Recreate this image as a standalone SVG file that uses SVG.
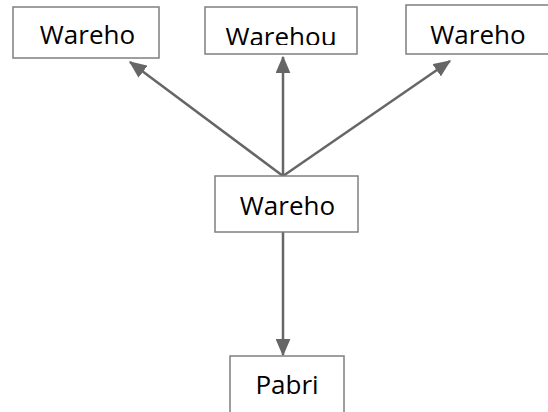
<svg xmlns="http://www.w3.org/2000/svg" width="548" height="412" viewBox="0 0 548 412">
<style>
.box{fill:#fff;stroke:#7f7f7f;stroke-width:1.5}
.lbl{font-family:"Open Sans","Noto Sans",sans-serif;font-size:26px;fill:#000;text-anchor:middle}
.conn{stroke:#666;stroke-width:2.5;fill:none;marker-end:url(#ah)}
</style>
<defs>
<marker id="ah" markerWidth="7" markerHeight="6" refX="6.5" refY="3" orient="auto" markerUnits="strokeWidth">
<path d="M0,0 L7,3 L0,6 Z" fill="#666"/>
</marker>
<clipPath id="c2"><rect x="205" y="7" width="152" height="38"/></clipPath>
</defs>
<g id="connectors">
<line class="conn" x1="283" y1="176" x2="130" y2="62"/>
<line class="conn" x1="283" y1="176" x2="283" y2="57"/>
<line class="conn" x1="283" y1="176" x2="450" y2="61"/>
<line class="conn" x1="283" y1="232" x2="283" y2="355"/>
</g>
<g id="n1"><rect class="box" x="13" y="7" width="146" height="51"/><text class="lbl" x="87.5" y="44">Wareho</text></g>
<g id="n2"><rect class="box" x="205" y="7" width="152" height="47"/><text class="lbl" x="281" y="46" clip-path="url(#c2)">Warehou</text></g>
<g id="n3"><rect class="box" x="406" y="5" width="150" height="49"/><text class="lbl" x="478" y="44">Wareho</text></g>
<g id="n4"><rect class="box" x="215" y="176" width="143" height="56"/><text class="lbl" x="287.5" y="215">Wareho</text></g>
<g id="n5"><rect class="box" x="230" y="356" width="114" height="70"/><text class="lbl" x="287" y="394">Pabri</text></g>
</svg>
